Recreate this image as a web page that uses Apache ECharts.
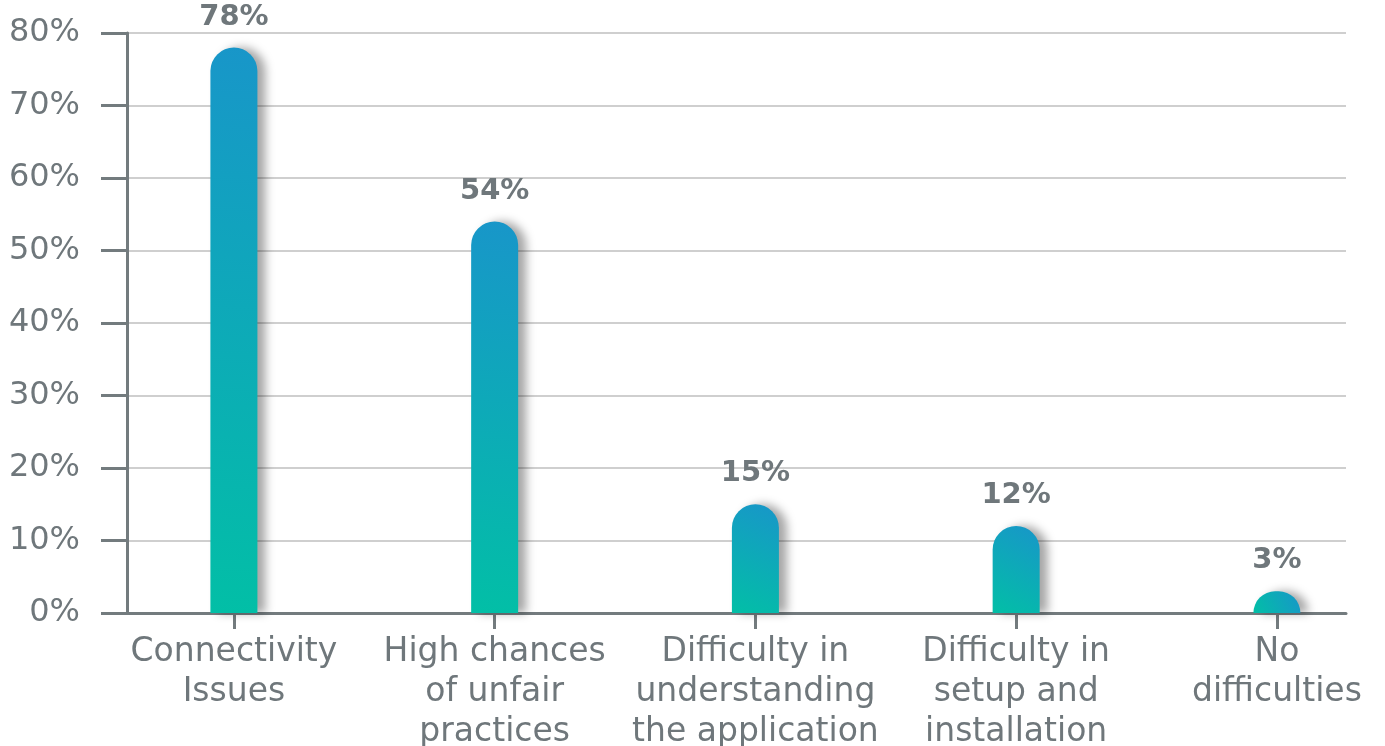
<!DOCTYPE html>
<html>
<head>
<meta charset="utf-8">
<script src="https://cdn.jsdelivr.net/npm/echarts@6/dist/echarts.min.js"></script>
<style>
  html, body { margin: 0; padding: 0; background: #fff; }
  #chart { width: 1385px; height: 746px; }
</style>
</head>
<body>
<div id="chart"></div>
<script>
// categories and values
var categories = [
    'Connectivity\nIssues',
    'High chances\nof unfair\npractices',
    'Difficulty in\nunderstanding\nthe application',
    'Difficulty in\nsetup and\ninstallation',
    'No\ndifficulties'
];
var values = [78, 54, 15, 12, 3];
var positions = [0, 1, 2, 3, 4];

var textGray = '#6f777b';
var axisGray = '#737b7e';

// bars sit on a numeric x axis so the category slots can be offset like the original
var barData = positions.map(function (p, i) { return [p, values[i]]; });

var chart = echarts.init(document.getElementById('chart'));

var option = {
    backgroundColor: '#ffffff',
    animation: false,
    grid: { left: 127, right: 39, top: 33, bottom: 133, containLabel: false, outerBoundsMode: 'none' },
    xAxis: {
        type: 'value',
        min: -0.41, max: 4.265,
        splitLine: { show: false },
        axisLine: { lineStyle: { color: axisGray, width: 3 } },
        axisTick: { show: true, customValues: positions, length: 16, lineStyle: { color: axisGray, width: 3 } },
        axisLabel: {
            customValues: positions,
            color: textGray, fontSize: 33, lineHeight: 40, margin: 19,
            fontFamily: 'DejaVu Sans',
            formatter: function (v) { return categories[Math.round(v)]; }
        }
    },
    yAxis: {
        type: 'value',
        min: 0, max: 80, interval: 10,
        axisLine: { show: true, onZero: false, lineStyle: { color: axisGray, width: 3 } },
        axisTick: { show: true, length: 26, lineStyle: { color: axisGray, width: 3 } },
        axisLabel: {
            color: textGray, fontSize: 32, margin: 47, fontFamily: 'DejaVu Sans',
            formatter: '{value}%'
        },
        splitLine: { lineStyle: { color: '#cfcfcf', width: 2 } }
    },
    series: [{
        type: 'bar',
        data: barData,
        barWidth: 47,
        itemStyle: {
            borderRadius: [24, 24, 0, 0],
            color: new echarts.graphic.LinearGradient(0, 1, 1, 0, [
                { offset: 0, color: '#02bfa6' },
                { offset: 1, color: '#1896c9' }
            ]),
            shadowColor: 'rgba(0,0,0,0.35)',
            shadowBlur: 10,
            shadowOffsetX: 8
        },
        label: {
            show: true, position: 'top', distance: 16,
            formatter: function (p) { return p.value[1] + '%'; },
            color: textGray, fontSize: 29, fontWeight: 'bold', fontFamily: 'DejaVu Sans'
        }
    }]
};
chart.setOption(option);
</script>
</body>
</html>
